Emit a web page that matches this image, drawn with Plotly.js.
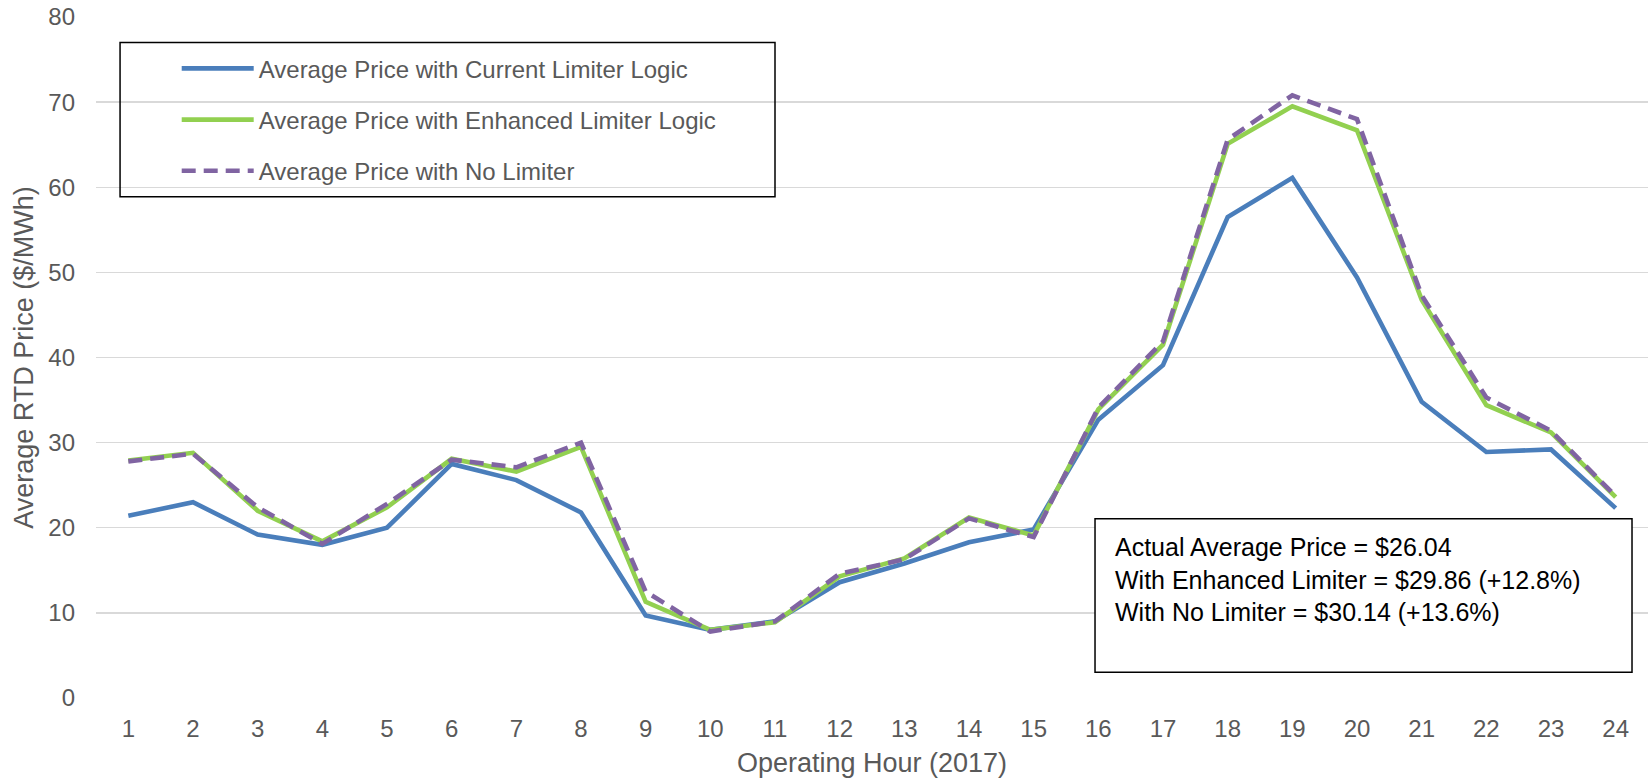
<!DOCTYPE html>
<html>
<head>
<meta charset="utf-8">
<script src="https://cdn.plot.ly/plotly-3.0.1.min.js"></script>
<style>
  html, body { margin: 0; padding: 0; background: #ffffff; }
  #chart { width: 1649px; height: 780px; }
</style>
</head>
<body>
<div id="chart"></div>
<script>
// ---- Data ----
const hours = [1,2,3,4,5,6,7,8,9,10,11,12,13,14,15,16,17,18,19,20,21,22,23,24];
const tickLabels = hours.map(String);
const currentLimiter = [21.4,23.0,19.2,18.0,20.0,27.5,25.6,21.8,9.7,8.0,9.0,13.6,15.8,18.3,19.8,32.7,39.1,56.5,61.1,49.4,34.8,28.9,29.2,22.3];
const enhancedLimiter = [27.9,28.8,22.0,18.4,22.4,28.1,26.6,29.5,11.3,8.0,8.9,14.3,16.4,21.2,19.1,33.9,41.5,65.1,69.5,66.7,46.8,34.4,31.2,23.6];
const noLimiter = [27.8,28.7,22.4,18.1,22.8,28.0,27.1,30.0,12.5,7.8,9.0,14.6,16.3,21.1,18.9,34.1,41.9,65.6,70.8,68.0,47.3,35.3,31.4,23.7];
const seriesNames = [
  "Average Price with Current Limiter Logic",
  "Average Price with Enhanced Limiter Logic",
  "Average Price with No Limiter"
];
const summaryLines = [
  "Actual Average Price = $26.04",
  "With Enhanced Limiter = $29.86 (+12.8%)",
  "With No Limiter = $30.14 (+13.6%)"
];

const FONT = "Liberation Sans, Arial, Helvetica, sans-serif";
const GREY = "#595959";

const traces = [
  { x: hours, y: currentLimiter, name: seriesNames[0], type: "scatter", mode: "lines",
    legendgroup: "g1", line: { color: "#4a7ebb", width: 4.6 } },
  { x: hours, y: enhancedLimiter, name: seriesNames[1], type: "scatter", mode: "lines",
    legendgroup: "g2", line: { color: "#92d050", width: 4.6 } },
  { x: hours, y: noLimiter, name: seriesNames[2], type: "scatter", mode: "lines",
    legendgroup: "g3", line: { color: "#8064a2", width: 4.6, dash: "14px,8px" } }
];

const layout = {
  width: 1649, height: 780,
  paper_bgcolor: "#ffffff", plot_bgcolor: "#ffffff",
  margin: { l: 96, r: 1, t: 17, b: 82, pad: 0 },
  font: { family: FONT, color: GREY, size: 24 },
  showlegend: true,
  legend: {
    x: 0.052, y: 0.957, xanchor: "left", yanchor: "top",
    bgcolor: "rgba(0,0,0,0)", borderwidth: 0,
    font: { family: FONT, size: 24, color: GREY },
    itemwidth: 72, tracegroupgap: 17, traceorder: "grouped"
  },
  xaxis: {
    range: [0.5, 24.5], tickmode: "array", tickvals: hours, ticktext: tickLabels,
    showgrid: false, zeroline: false, showline: false, ticks: "",
    tickfont: { family: FONT, size: 24, color: GREY },
    ticklabelstandoff: 14,
    title: { text: "Operating Hour (2017)", font: { family: FONT, size: 27, color: GREY }, standoff: 12 }
  },
  yaxis: {
    range: [0, 80], dtick: 10, tick0: 0,
    showgrid: true, gridcolor: "#d9d9d9", gridwidth: 1.3,
    zeroline: false, showline: false, ticks: "",
    tickfont: { family: FONT, size: 24, color: GREY },
    ticklabelstandoff: 20,
    title: { text: "Average RTD Price ($/MWh)", font: { family: FONT, size: 27, color: GREY }, standoff: 6 }
  },
  shapes: [
    { type: "rect", xref: "paper", yref: "paper", x0: 0.0155, x1: 0.4375, y0: 0.7361, y1: 0.9627,
      line: { color: "#000000", width: 1.5 }, fillcolor: "rgba(0,0,0,0)", layer: "above" },
    { type: "rect", xref: "paper", yref: "paper", x0: 0.6437, x1: 0.9897, y0: 0.0377, y1: 0.2633,
      line: { color: "#000000", width: 1.5 }, fillcolor: "#ffffff", layer: "above" }
  ],
  annotations: [
    { xref: "paper", yref: "paper", x: 0.6555, y: 0.245, xanchor: "left", yanchor: "top",
      align: "left", showarrow: false, text: summaryLines.join("<br>"),
      font: { family: FONT, size: 25, color: "#000000" } }
  ]
};

Plotly.newPlot("chart", traces, layout, { displayModeBar: false, staticPlot: true });
</script>
</body>
</html>
